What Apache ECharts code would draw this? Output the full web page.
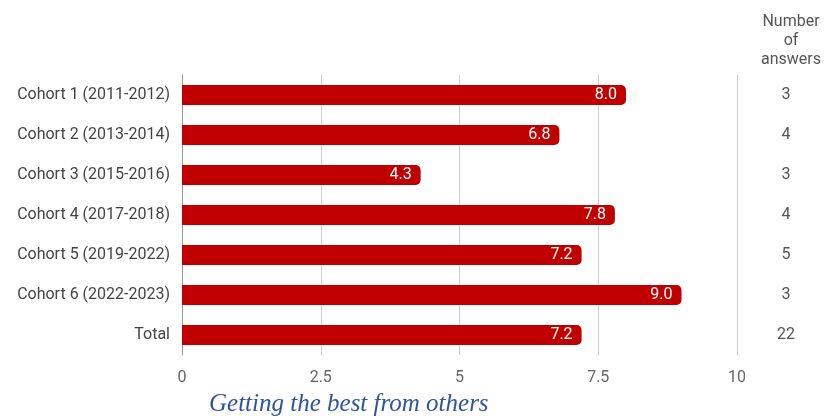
<!DOCTYPE html>
<html>
<head>
<meta charset="utf-8">
<script src="https://cdn.jsdelivr.net/npm/echarts@6/dist/echarts.min.js"></script>
<style>
  html, body { margin: 0; padding: 0; background: #fff; }
  #chart { width: 826px; height: 416px; }
</style>
</head>
<body>
<div id="chart"></div>
<script>
var cohorts = [
  "Cohort 1 (2011-2012)",
  "Cohort 2 (2013-2014)",
  "Cohort 3 (2015-2016)",
  "Cohort 4 (2017-2018)",
  "Cohort 5 (2019-2022)",
  "Cohort 6 (2022-2023)",
  "Total"
];
var scores = [8.0, 6.8, 4.3, 7.8, 7.2, 9.0, 7.2];
var answers = ["3", "4", "3", "4", "5", "3", "22"];
var xTicks = [0, 2.5, 5, 7.5, 10];

var chart = echarts.init(document.getElementById("chart"));

var option = {
  animation: false,
  title: [
    {
      text: "Getting the best from others",
      left: 204,
      top: 387,
      textStyle: {
        color: "#2e5597",
        fontFamily: "Liberation Serif",
        fontStyle: "italic",
        fontWeight: "normal",
        fontSize: 25
      }
    },
    {
      // header of the right column
      text: "Number\nof\nanswers",
      left: 786,
      top: 7,
      textAlign: "center",
      textStyle: {
        color: "#555",
        fontFamily: "Roboto",
        fontWeight: "normal",
        fontSize: 16,
        lineHeight: 19,
        align: "center"
      }
    }
  ],
  grid: { left: 182, right: 89, top: 75, bottom: 61 },
  xAxis: {
    type: "value",
    min: 0,
    max: 10,
    interval: 2.5,
    axisLine: { show: false },
    axisTick: { show: false },
    splitLine: { lineStyle: { color: "#cccccc" } },
    axisLabel: {
      color: "#666",
      fontFamily: "Roboto",
      fontSize: 16,
      margin: 15,
      formatter: function (v) {
        return xTicks.indexOf(v) >= 0 ? String(v) : "";
      }
    }
  },
  yAxis: [
    {
      type: "category",
      data: cohorts,
      inverse: true,
      axisLine: { show: true, lineStyle: { color: "#999" } },
      axisTick: { show: false },
      axisLabel: {
        color: "#444",
        fontFamily: "Roboto",
        fontSize: 16,
        margin: 12
      }
    },
    {
      type: "category",
      data: answers,
      inverse: true,
      position: "right",
      axisLine: { show: false },
      axisTick: { show: false },
      axisLabel: {
        color: "#555",
        fontFamily: "Roboto",
        fontSize: 16,
        align: "center",
        margin: 49
      }
    }
  ],
  series: [
    {
      type: "bar",
      data: scores,
      barWidth: 20,
      itemStyle: { color: "#c00000", borderRadius: [0, 5, 5, 0] },
      label: {
        show: true,
        position: "insideRight",
        distance: 9,
        color: "#fff",
        fontFamily: "Roboto",
        fontSize: 16,
        formatter: function (p) {
          return p.value.toFixed(1);
        }
      }
    }
  ]
};

chart.setOption(option);
</script>
</body>
</html>
